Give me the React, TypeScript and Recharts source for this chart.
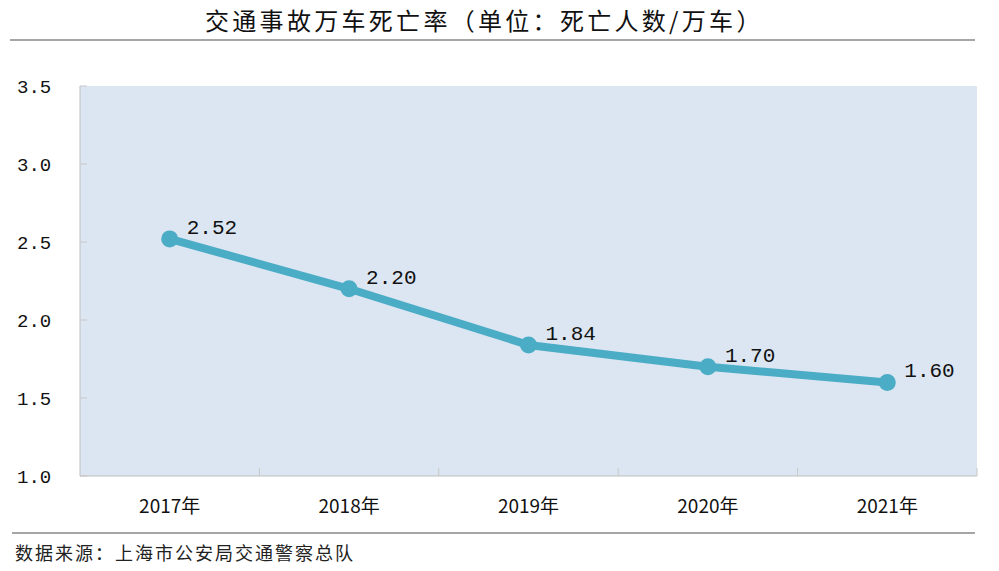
import { LineChart, Line, XAxis, YAxis, CartesianGrid, LabelList } from "recharts";

const years = ["2017年", "2018年", "2019年", "2020年", "2021年"];
const rates = [2.52, 2.2, 1.84, 1.7, 1.6];
const yTicks = [1.0, 1.5, 2.0, 2.5, 3.0, 3.5];

const data = years.map((year, i) => ({ year, rate: rates[i] }));

const GRAY = "#a6a6a6";
const LINE = "#4bacc6";
const BAND = 179.4;

function YTick(props: any) {
  const { y, payload } = props;
  return (
    <g>
      <line x1={80} x2={87} y1={y} y2={y} stroke="#c8c8c8" strokeWidth={1} />
      <text
        x={17}
        y={y}
        dy={7}
        textAnchor="start"
        fontFamily="Liberation Mono"
        fontSize={19}
        fill="#111"
      >
        {payload.value.toFixed(1)}
      </text>
    </g>
  );
}

function XTick(props: any) {
  const { x, y, payload } = props;
  return (
    <g>
      <line x1={x + BAND / 2} x2={x + BAND / 2} y1={y - 8} y2={y - 16} stroke="#c8c8c8" strokeWidth={1} />
      <text
        x={x}
        y={y + 29}
        textAnchor="middle"
        fontFamily="Noto Sans CJK SC"
        fontSize={19}
        fill="#111"
      >
        {payload.value}
      </text>
    </g>
  );
}

function PointLabel(props: any) {
  const { x, y, value } = props;
  return (
    <text x={x + 17} y={y - 5} fontFamily="Liberation Mono" fontSize={21} fill="#111">
      {Number(value).toFixed(2)}
    </text>
  );
}

export default function App() {
  return (
    <div style={{ position: "absolute", left: 0, top: 0, width: 999, height: 571, background: "#fff" }}>
      <div
        style={{
          position: "absolute",
          left: 205,
          top: 4,
          whiteSpace: "nowrap",
          fontFamily: "Noto Sans CJK SC",
          fontSize: 24,
          letterSpacing: 3.3,
          color: "#111",
          lineHeight: "32px",
        }}
      >
        交通事故万车死亡率（单位：死亡人数/万车）
      </div>
      <div style={{ position: "absolute", left: 10, width: 965, top: 39, height: 2, background: GRAY }} />
      <LineChart
        width={999}
        height={571}
        data={data}
        margin={{ top: 86, right: 22, left: 0, bottom: 94 }}
      >
        <CartesianGrid fill="#dce6f2" stroke="none" horizontal={false} vertical={false} />
        <XAxis
          dataKey="year"
          height={1}
          padding={{ left: BAND / 2, right: BAND / 2 }}
          axisLine={{ stroke: "#bfbfbf" }}
          tickLine={false}
          tick={<XTick />}
          interval={0}
        />
        <YAxis
          width={80}
          domain={[1, 3.5]}
          ticks={yTicks}
          axisLine={{ stroke: "#bfbfbf" }}
          tickLine={false}
          tick={<YTick />}
          interval={0}
        />
        <Line
          type="linear"
          dataKey="rate"
          stroke={LINE}
          strokeWidth={8}
          dot={{ r: 8.5, fill: LINE, stroke: LINE, strokeWidth: 0 }}
          activeDot={false}
          isAnimationActive={false}
        >
          <LabelList dataKey="rate" content={<PointLabel />} />
        </Line>
      </LineChart>
      <div style={{ position: "absolute", left: 12, width: 963, top: 532, height: 2, background: GRAY }} />
      <div
        style={{
          position: "absolute",
          left: 15,
          top: 539,
          fontFamily: "Noto Sans CJK SC",
          fontSize: 18,
          letterSpacing: 2,
          color: "#222",
          lineHeight: "26px",
        }}
      >
        数据来源：上海市公安局交通警察总队
      </div>
    </div>
  );
}
